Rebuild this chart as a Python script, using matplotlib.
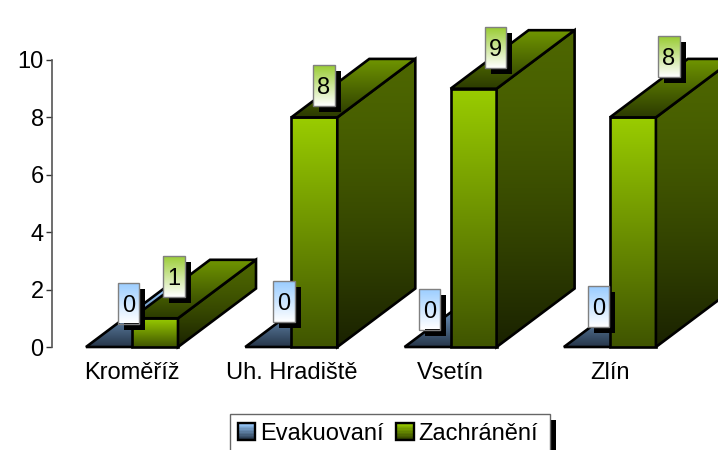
import numpy as np
import matplotlib
matplotlib.use('Agg')
import matplotlib.pyplot as plt
from matplotlib.colors import to_rgb
from matplotlib.legend_handler import HandlerBase
from matplotlib.patches import Patch, Polygon, Rectangle

plt.rcParams['font.family'] = ['Liberation Sans', 'DejaVu Sans']

# Data
categories = ['Kroměříž', 'Uh. Hradiště', 'Vsetín', 'Zlín']
evakuovani = [0, 0, 0, 0]
zachraneni = [1, 8, 9, 8]

# Hand placed data labels, offset in pixels from the top centre of each bar
evak_label_dx = [19.5, 15.5, 2, 11.5]
evak_label_dy = [44, 45.5, 38, 40.5]
zach_label_dx = [19, 9.5, 22, 36]
zach_label_dy = [41.8, 32, 41.2, 61]

W, H = 718, 450
PX_X = 159.3   # pixels per category
PX_Y = 28.7    # pixels per unit of value
BAR_W = 46 / PX_X
DEPTH_X = 78 / PX_X
DEPTH_Y = 58.5 / PX_Y
FONT = 17

blue = {'top': ('#99ccff', '#26364a'), 'front': ('#99ccff', '#26364a'), 'side': ('#4d6680', '#1a2229')}
green = {'top': ('#709600', '#2c3b00'), 'front': ('#99cc00', '#405500'), 'side': ('#4d6600', '#1a2200')}

fig = plt.figure(figsize=(W / 100, H / 100), dpi=100)
ax = fig.add_axes([52 / W, 1 - 347 / H, 666 / W, 287 / H])
xmin = -80 / PX_X
xmax = xmin + 666 / PX_X
z = [3]


def next_z():
    z[0] += 1
    return z[0]


def grad_poly(pts, colors, edge='black', lw=1.9, power=1.0):
    # polygon filled with a vertical gradient, colors = (top, bottom)
    pts = np.array(pts)
    c0, c1 = np.array(to_rgb(colors[0])), np.array(to_rgb(colors[1]))
    t = (np.linspace(0, 1, 64) ** power)[:, None, None]
    img = c0[None, None, :] * (1 - t) + c1[None, None, :] * t
    order = next_z()
    im = ax.imshow(img, extent=(pts[:, 0].min(), pts[:, 0].max(), pts[:, 1].min(), pts[:, 1].max()),
                   origin='upper', aspect='auto', zorder=order, interpolation='bilinear')
    poly = Polygon(pts, closed=True, facecolor='none', edgecolor=edge, linewidth=lw,
                   joinstyle='miter', clip_on=False, zorder=next_z())
    ax.add_patch(poly)
    im.set_clip_box(fig.bbox)
    im.set_clip_path(poly)


def bar3d(x0, value, colors):
    x1 = x0 + BAR_W
    if value > 0:
        grad_poly([(x0, 0), (x1, 0), (x1, value), (x0, value)], colors['front'])
        grad_poly([(x1, 0), (x1 + DEPTH_X, DEPTH_Y), (x1 + DEPTH_X, value + DEPTH_Y), (x1, value)],
                  colors['side'], power=1.5)
    grad_poly([(x0, value), (x1, value), (x1 + DEPTH_X, value + DEPTH_Y), (x0 + DEPTH_X, value + DEPTH_Y)],
              colors['top'])


def data_label(cx, value, dx, dy, top_color):
    cx = cx + dx / PX_X
    cy = value + dy / PX_Y
    hw = 10.7 / PX_X
    hh = 20.5 / PX_Y
    sx, sy = 6 / PX_X, 6 / PX_Y
    ax.add_patch(Rectangle((cx - hw + sx, cy - hh - sy), 2 * hw, 2 * hh, facecolor='black', edgecolor='none',
                           clip_on=False, zorder=next_z()))
    grad_poly([(cx - hw, cy - hh), (cx + hw, cy - hh), (cx + hw, cy + hh), (cx - hw, cy + hh)],
              (top_color, '#ffffff'), edge='#808080', lw=1)
    ax.text(cx, cy, str(value), ha='center', va='center_baseline', fontsize=FONT, color='black',
            clip_on=False, zorder=next_z())


for i in range(len(categories)):
    bar3d(i - BAR_W, evakuovani[i], blue)
    bar3d(i, zachraneni[i], green)

for i in range(len(categories)):
    data_label(i - BAR_W / 2, evakuovani[i], evak_label_dx[i], evak_label_dy[i], '#99ccff')
    data_label(i + BAR_W / 2, zachraneni[i], zach_label_dx[i], zach_label_dy[i], '#99cc33')

ax.set_xlim(xmin, xmax)
ax.set_ylim(0, 10)
ax.set_yticks([0, 2, 4, 6, 8, 10])
ax.set_xticks(range(len(categories)))
ax.set_xticklabels(categories)
ax.tick_params(axis='x', length=0, pad=11, labelsize=FONT)
ax.tick_params(axis='y', length=4.5, width=1, color='#333333', pad=1.5, labelsize=FONT)
ax.patch.set_visible(False)
for side in ['top', 'right', 'bottom']:
    ax.spines[side].set_visible(False)
ax.spines['left'].set_color('#555555')
ax.spines['left'].set_linewidth(1.2)


class GradientHandle(HandlerBase):
    def __init__(self, colors):
        super().__init__()
        self.colors = colors

    def create_artists(self, legend, orig_handle, xdescent, ydescent, width, height, fontsize, trans):
        c0, c1 = np.array(to_rgb(self.colors[0])), np.array(to_rgb(self.colors[1]))
        out = []
        n = 12
        for k in range(n):
            t = k / (n - 1)
            out.append(Rectangle((-xdescent, -ydescent + height * (1 - (k + 1) / n)), width, height / n,
                                 facecolor=c0 * (1 - t) + c1 * t, edgecolor='none', transform=trans))
        out.append(Rectangle((-xdescent, -ydescent), width, height, facecolor='none', edgecolor='black',
                             linewidth=1.7, transform=trans))
        return out


# Legend runs off the bottom of the picture, so its frame and shadow are drawn by hand
fig.add_artist(Rectangle((550 / W, 0), 6 / W, 30 / H, facecolor='black', edgecolor='none',
                         transform=fig.transFigure))
fig.add_artist(Rectangle((230 / W, -10 / H), 320 / W, 46 / H, facecolor='white', edgecolor='#666666',
                         linewidth=1, transform=fig.transFigure))
h_evak = Patch(label='Evakuovaní')
h_zach = Patch(label='Zachránění')
fig.legend(handles=[h_evak, h_zach], loc='upper left', bbox_to_anchor=(237.5 / W, 1 - 422.5 / H),
           frameon=False, ncols=2, borderpad=0, borderaxespad=0, fontsize=FONT,
           handlelength=0.74, handleheight=0.74, handletextpad=0.2, columnspacing=0.55,
           handler_map={h_evak: GradientHandle(('#99ccff', '#26364a')),
                        h_zach: GradientHandle(('#99cc00', '#334400'))})

fig.savefig('out.png', dpi=100)
